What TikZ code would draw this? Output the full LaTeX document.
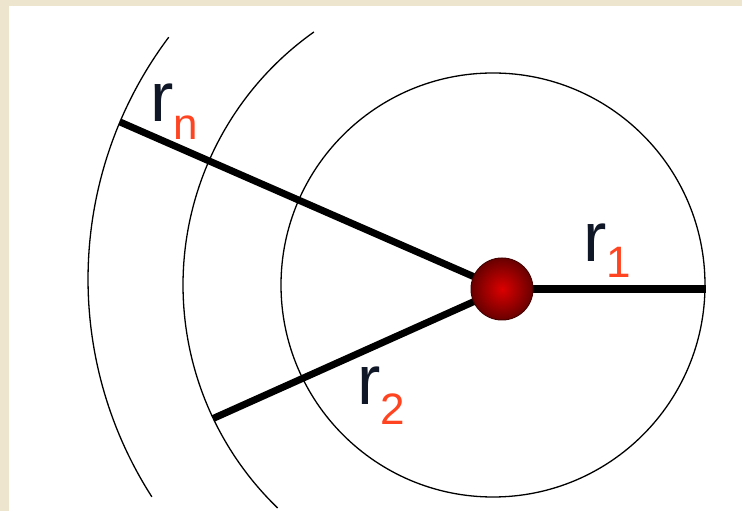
\documentclass[tikz,border=0pt]{standalone}
\usepackage{fontspec}
\setmainfont{Liberation Sans}
\definecolor{beige}{RGB}{238,229,207}
\definecolor{rcol}{RGB}{16,24,40}
\definecolor{subcol}{RGB}{255,68,34}
\definecolor{ballin}{RGB}{220,0,0}
\definecolor{ballout}{RGB}{105,0,0}
\tikzset{
  thin line/.style={line width=1.3pt, black},
  radius line/.style={line width=7pt, black},
  rlabel/.style={anchor=base west, inner sep=0pt, text=rcol, font=\fontsize{70}{70}\selectfont}
}
\newcommand{\rsub}[2]{r{\color{subcol}\fontsize{44}{44}\selectfont\raisebox{-#2pt}{#1}}}
\begin{document}
\begin{tikzpicture}[x=1pt,y=1pt]
\useasboundingbox (0,0) rectangle (742,511);
\fill[beige] (0,0) rectangle (742,511);
\fill[white] (9,0) rectangle (742,505);
% centres
\coordinate (C) at (493,226);
\coordinate (C3) at (491,231.8);
% main circle
\draw[thin line] (C) circle[radius=212pt];
% arcs
\draw[thin line] ([shift={(125.3:310pt)}]C) arc[start angle=125.3, end angle=226, radius=310pt];
\draw[thin line] ([shift={(143.1:403pt)}]C3) arc[start angle=143.1, end angle=212.7, radius=403pt];
% ends of radius lines
\coordinate (bc) at (502,222);
\coordinate (e1) at (706,222);
\coordinate (en) at (120,389);
\coordinate (e2) at ([shift={(205.5:310pt)}]C);
\draw[radius line, line width=8.5pt] (bc) -- (e1);
\draw[radius line] (bc) -- (en);
\draw[radius line] (bc) -- (e2);
% ball
\node[circle, minimum size=62pt, inner sep=0pt, draw={rgb,255:red,70;green,0;blue,0}, line width=1pt, inner color=ballin, outer color=ballout] (ball) at (bc) {};
% labels
\node[rlabel] (ln) at (150,389) {\rsub{n}{18}};
\node[rlabel] (l2) at (357,106) {\rsub{2}{20}};
\node[rlabel] (l1) at (583,249) {\rsub{1}{16}};
\end{tikzpicture}
\end{document}
